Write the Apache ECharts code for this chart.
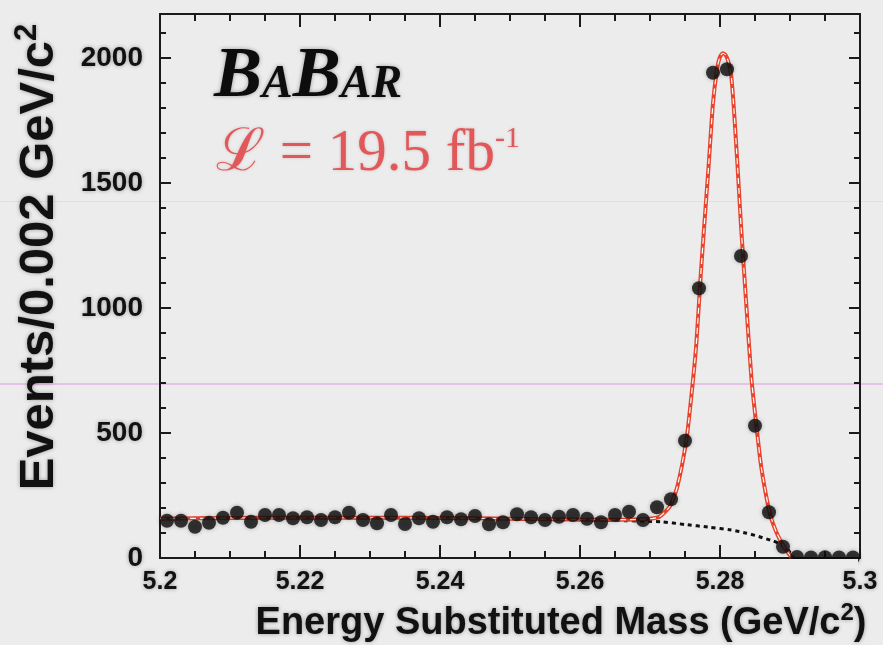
<!DOCTYPE html>
<html>
<head>
<meta charset="utf-8">
<script src="https://cdn.jsdelivr.net/npm/echarts@6/dist/echarts.min.js"></script>
<style>
  html, body { margin: 0; padding: 0; background: #ececec; }
  #chart { width: 883px; height: 645px; }
</style>
</head>
<body>
<div id="chart"></div>
<script>
// Bin centres of the 0.002 GeV/c^2 histogram bins
const binMass = [
  5.201, 5.203, 5.205, 5.207, 5.209, 5.211, 5.213, 5.215, 5.217, 5.219,
  5.221, 5.223, 5.225, 5.227, 5.229, 5.231, 5.233, 5.235, 5.237, 5.239,
  5.241, 5.243, 5.245, 5.247, 5.249, 5.251, 5.253, 5.255, 5.257, 5.259,
  5.261, 5.263, 5.265, 5.267, 5.269, 5.271, 5.273, 5.275, 5.277, 5.279,
  5.281, 5.283, 5.285, 5.287, 5.289, 5.291, 5.293, 5.295, 5.297, 5.299
];
// Events per bin
const binEvents = [
  149, 149, 125, 141, 161, 181, 145, 172, 172, 159,
  163, 152, 163, 181, 152, 139, 172, 136, 159, 145,
  163, 155, 168, 135, 143, 175, 163, 152, 165, 172,
  157, 143, 172, 185, 152, 203, 235, 469, 1079, 1941,
  1955, 1208, 529, 183, 45, 4, 2, 3, 2, 2
];

// Total fit (signal + background)
const fitMass = [
  5.200, 5.210, 5.220, 5.230, 5.240, 5.250, 5.260, 5.265, 5.268, 5.270,
  5.2713, 5.2728, 5.2739, 5.2752, 5.2759, 5.2766, 5.2772, 5.2777, 5.2784, 5.2790,
  5.2796, 5.2800, 5.2804, 5.2808, 5.2812, 5.2816, 5.2820, 5.2825, 5.2830, 5.2838,
  5.2845, 5.2852, 5.2859, 5.2871, 5.2881, 5.2892, 5.2898, 5.2903
];
const fitEvents = [
  157, 160, 161, 161, 160, 157, 154, 153, 154, 157,
  164, 205, 285, 472, 645, 850, 1112, 1312, 1579, 1820,
  1960, 2005, 2019, 2012, 1985, 1930, 1790, 1570, 1330, 995,
  715, 529, 362, 181, 100, 42, 18, 0
];

// Combinatorial background component of the fit
const bkgMass = [
  5.200, 5.210, 5.220, 5.230, 5.240, 5.250, 5.260, 5.265, 5.2716, 5.2750,
  5.2785, 5.2816, 5.2838, 5.2852, 5.2863, 5.2876, 5.2885, 5.2892, 5.2898, 5.2902,
  5.2905
];
const bkgEvents = [
  157, 160, 161, 161, 160, 157, 153, 150, 145, 134,
  123, 112, 99, 89, 79, 68, 57, 45, 30, 14,
  0
];

// Axis settings
const xMin = 5.2, xMax = 5.3, xStep = 0.02;
const yMin = 0, yMax = 2176, yMajor = 500, yMinor = 100;

const pair = (xs, ys) => xs.map((x, i) => [x, ys[i]]);

const ink = '#1a1a1a';
const paper = '#ececec';
const sans = '"Liberation Sans", Arial, sans-serif';
const serif = '"Liberation Serif", "DejaVu Serif", serif';
const halo = { textShadowColor: 'rgba(0,0,0,0.35)', textShadowBlur: 4 };

function xAxisDef(pos, showLabels) {
  return {
    type: 'value', position: pos, min: xMin, max: xMax, interval: xStep,
    axisLine: { show: true, onZero: false, lineStyle: { color: ink, width: 2 } },
    axisTick: { show: true, inside: true, length: 13, lineStyle: { color: ink, width: 2 } },
    minorTick: { show: true, splitNumber: 4, length: 7, lineStyle: { color: ink, width: 2 } },
    splitLine: { show: false },
    axisLabel: {
      show: showLabels, margin: 12, fontSize: 25, fontWeight: 'bold',
      fontFamily: sans, color: '#111', ...halo,
      formatter: v => v.toFixed(2).replace(/0$/, '')
    }
  };
}

function yAxisDef(pos, step, tickLen, showLabels) {
  return {
    type: 'value', position: pos, min: yMin, max: yMax, interval: step,
    axisLine: { show: true, onZero: false, lineStyle: { color: ink, width: 2 } },
    axisTick: { show: true, inside: true, length: tickLen, lineStyle: { color: ink, width: 2 } },
    splitLine: { show: false },
    axisLabel: {
      show: showLabels, showMaxLabel: false, margin: 17, fontSize: 28, fontWeight: 'bold',
      fontFamily: sans, color: '#111', ...halo,
      formatter: v => String(v)
    }
  };
}

const chart = echarts.init(document.getElementById('chart'), null, { renderer: 'canvas' });

chart.setOption({
  backgroundColor: paper,
  animation: false,
  grid: { left: 160, right: 23, top: 14, bottom: 87 },
  xAxis: [xAxisDef('bottom', true), xAxisDef('top', false)],
  yAxis: [
    yAxisDef('left', yMajor, 11, true),
    yAxisDef('left', yMinor, 6, false),
    yAxisDef('right', yMajor, 11, false),
    yAxisDef('right', yMinor, 6, false)
  ],
  series: [
    {
      name: 'background', type: 'line', data: pair(bkgMass, bkgEvents),
      smooth: 0.2, showSymbol: false, z: 2,
      lineStyle: { color: '#111', width: 3, type: [4, 4] }
    },
    {
      name: 'fit', type: 'line', data: pair(fitMass, fitEvents),
      smooth: 0.2, showSymbol: false, z: 3,
      lineStyle: { color: '#e8452e', width: 4 }
    },
    {
      name: 'fit-core', type: 'line', data: pair(fitMass, fitEvents),
      smooth: 0.2, showSymbol: false, z: 4,
      lineStyle: { color: '#ffffff', width: 1.2, type: [6, 4] }
    },
    {
      name: 'data', type: 'scatter', data: pair(binMass, binEvents),
      symbol: 'circle', symbolSize: 14, z: 5,
      itemStyle: { color: '#0d0d0d', shadowColor: 'rgba(0,0,0,0.35)', shadowBlur: 4 }
    }
  ],
  graphic: [
    { type: 'rect', z: 0, silent: true, shape: { x: 0, y: 383, width: 883, height: 2 },
      style: { fill: 'rgba(225,160,225,0.55)' } },
    { type: 'rect', z: 0, silent: true, shape: { x: 0, y: 201, width: 883, height: 1 },
      style: { fill: 'rgba(225,170,225,0.3)' } },
    // markers are cut at the lower frame edge
    { type: 'rect', z: 50, silent: true, shape: { x: 162, y: 559, width: 696, height: 9 },
      style: { fill: paper } },
    {
      type: 'text', x: 214, y: 113, z: 100, silent: true,
      style: {
        text: '{b|B}{s|A}{b|B}{s|AR}',
        verticalAlign: 'bottom',
        rich: {
          b: { fontFamily: serif, fontStyle: 'italic', fontWeight: 'bold', fontSize: 72,
               lineHeight: 72, verticalAlign: 'bottom', fill: '#0d0d0d', ...halo },
          s: { fontFamily: serif, fontStyle: 'italic', fontWeight: 'bold', fontSize: 46,
               lineHeight: 46, verticalAlign: 'bottom', padding: [0, 0, 5, 0], fill: '#0d0d0d', ...halo }
        }
      }
    },
    {
      type: 'text', x: 216, y: 184, z: 100, silent: true,
      style: {
        text: '{l|\u2112 = 19.5 fb}{sup|-1}',
        verticalAlign: 'bottom',
        rich: {
          l: { fontFamily: serif, fontSize: 59, lineHeight: 60, verticalAlign: 'bottom',
               fill: '#e0585a', textShadowColor: 'rgba(150,40,40,0.25)', textShadowBlur: 3 },
          sup: { fontFamily: serif, fontSize: 30, lineHeight: 30, verticalAlign: 'top',
                 fill: '#e0585a', textShadowColor: 'rgba(150,40,40,0.25)', textShadowBlur: 3 }
        }
      }
    },
    {
      type: 'text', x: 38, y: 257, rotation: Math.PI / 2, z: 100, silent: true,
      style: {
        text: '{a|Events/0.002 GeV/c}{s|2}',
        align: 'center', verticalAlign: 'middle',
        rich: {
          a: { fontFamily: sans, fontWeight: 'bold', fontSize: 49, lineHeight: 52,
               verticalAlign: 'bottom', fill: '#111', ...halo },
          s: { fontFamily: sans, fontWeight: 'bold', fontSize: 31, lineHeight: 31,
               verticalAlign: 'top', fill: '#111', ...halo }
        }
      }
    },
    {
      type: 'text', x: 561, y: 622, z: 100, silent: true,
      style: {
        text: '{a|Energy Substituted Mass (GeV/c}{s|2}{a|)}',
        align: 'center', verticalAlign: 'middle',
        rich: {
          a: { fontFamily: sans, fontWeight: 'bold', fontSize: 38, lineHeight: 42,
               verticalAlign: 'bottom', fill: '#111', ...halo },
          s: { fontFamily: sans, fontWeight: 'bold', fontSize: 24, lineHeight: 24,
               verticalAlign: 'top', fill: '#111', ...halo }
        }
      }
    }
  ]
});
</script>
</body>
</html>
